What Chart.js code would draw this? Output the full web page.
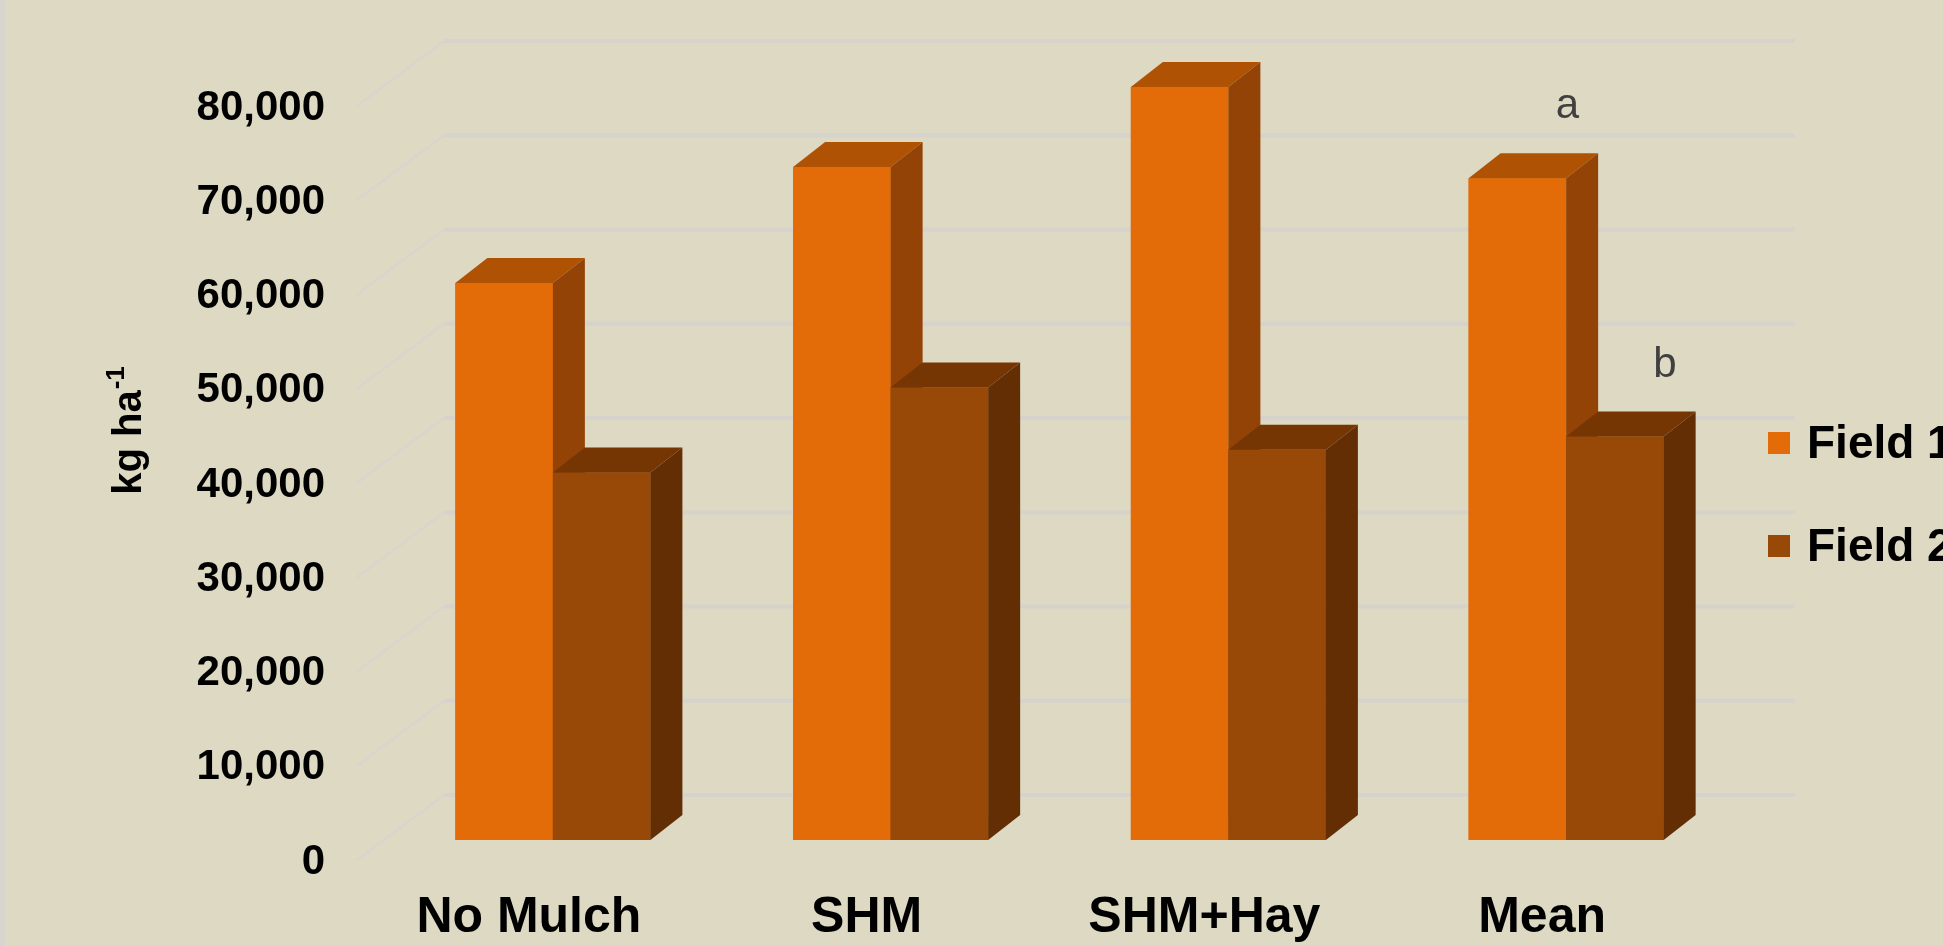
<!DOCTYPE html>
<html>
<head>
<meta charset="utf-8">
<script src="https://cdn.jsdelivr.net/npm/chart.js@4.4.1/dist/chart.umd.min.js"></script>
<style>
  html, body { margin: 0; padding: 0; background: #DDD9C3; overflow: hidden; }
  #wrap { position: relative; width: 1943px; height: 946px; }
  #edge { position: absolute; left: 0; top: 0; width: 5px; height: 946px; background: #D6D5D0; }
</style>
</head>
<body>
<div id="wrap">
  <canvas id="yieldChart" width="1943" height="946"></canvas>
  <div id="edge"></div>
</div>
<script>
// Data
const categories = ["No Mulch", "SHM", "SHM+Hay", "Mean"];
const field1 = [59100, 71400, 79900, 70200];
const field2 = [39000, 48000, 41400, 42800];
const field1Letters = ["", "", "", "a"];
const field2Letters = ["", "", "", "b"];
const yMax = 80000;
const yStep = 10000;

// 3D look: depth of the bars, back wall and floor front relative to the bar fronts
const DX = 32, DY = 25;
const WALL_DX = 60, WALL_DY = 45;
const FLOOR_DX = 27, FLOOR_DY = 20;

function poly(ctx, pts) {
  ctx.beginPath();
  ctx.moveTo(pts[0][0], pts[0][1]);
  for (let i = 1; i < pts.length; i++) ctx.lineTo(pts[i][0], pts[i][1]);
  ctx.closePath();
  ctx.fill();
}

const threeD = {
  id: "threeD",
  beforeDatasetsDraw(chart) {
    const { ctx, chartArea, scales: { y } } = chart;
    ctx.save();
    y.ticks.forEach(t => {
      const py = y.getPixelForValue(t.value);
      // side wall
      ctx.strokeStyle = "#D7D5CD";
      ctx.lineWidth = 2.5;
      ctx.beginPath();
      ctx.moveTo(chartArea.left - FLOOR_DX, py + FLOOR_DY);
      ctx.lineTo(chartArea.left + WALL_DX, py - WALL_DY);
      ctx.stroke();
      // back wall
      ctx.strokeStyle = "#D5D3CC";
      ctx.lineWidth = 4;
      ctx.beginPath();
      ctx.moveTo(chartArea.left + WALL_DX, py - WALL_DY);
      ctx.lineTo(chartArea.right + WALL_DX, py - WALL_DY);
      ctx.stroke();
    });
    ctx.restore();
  },
  afterDatasetsDraw(chart) {
    // faces drawn bar by bar, left to right, so nearer faces cover the ones behind
    const ctx = chart.ctx;
    const metas = chart.data.datasets.map((ds, i) => chart.getDatasetMeta(i));
    ctx.save();
    categories.forEach((c, i) => {
      metas.forEach((meta, di) => {
        const ds = chart.data.datasets[di];
        const bar = meta.data[i];
        const { x, y, base, width } = bar.getProps(["x", "y", "base", "width"], true);
        const x0 = x - width / 2, x1 = x + width / 2;
        ctx.fillStyle = ds.backgroundColor;
        ctx.fillRect(x0, y, width, base - y);
        ctx.fillStyle = ds.topColor;
        poly(ctx, [[x0, y], [x1, y], [x1 + DX, y - DY], [x0 + DX, y - DY]]);
        ctx.fillStyle = ds.sideColor;
        poly(ctx, [[x1, y], [x1 + DX, y - DY], [x1 + DX, base - DY], [x1, base]]);
      });
    });
    ctx.restore();
  },
  afterDraw(chart) {
    const { ctx, chartArea } = chart;
    ctx.save();

    // significance letters over the bars
    ctx.fillStyle = "#404040";
    ctx.font = "42px 'Liberation Sans', Arial, sans-serif";
    ctx.textAlign = "center";
    ctx.textBaseline = "alphabetic";
    [field1Letters, field2Letters].forEach((letters, di) => {
      chart.getDatasetMeta(di).data.forEach((bar, i) => {
        if (!letters[i]) return;
        ctx.fillText(letters[i], bar.x + 50, bar.y - 60);
      });
    });

    // legend
    ctx.textAlign = "left";
    ctx.font = "bold 46px 'Liberation Sans', Arial, sans-serif";
    chart.data.datasets.forEach((ds, i) => {
      const ly = 432 + i * 103;
      ctx.fillStyle = ds.backgroundColor;
      ctx.fillRect(chartArea.right + 33, ly, 22, 22);
      ctx.fillStyle = "#000";
      ctx.fillText(ds.label, chartArea.right + 72, ly + 26);
    });

    // y axis title: kg ha-1
    ctx.translate(141, 431);
    ctx.rotate(-Math.PI / 2);
    ctx.font = "bold 40px 'Liberation Sans', Arial, sans-serif";
    const main = "kg ha";
    const w1 = ctx.measureText(main).width;
    ctx.font = "bold 26px 'Liberation Sans', Arial, sans-serif";
    const w2 = ctx.measureText("-1").width;
    const start = -(w1 + w2) / 2;
    ctx.font = "bold 40px 'Liberation Sans', Arial, sans-serif";
    ctx.fillText(main, start, 0);
    ctx.font = "bold 26px 'Liberation Sans', Arial, sans-serif";
    ctx.fillText("-1", start + w1 + 1, -17);
    ctx.restore();
  }
};

new Chart(document.getElementById("yieldChart"), {
  type: "bar",
  data: {
    labels: categories,
    datasets: [
      {
        label: "Field 1",
        data: field1,
        backgroundColor: "#E36C09",
        topColor: "#AF5204",
        sideColor: "#934305",
        borderWidth: 0,
        clip: false,
        categoryPercentage: 0.5775,
        barPercentage: 1.0
      },
      {
        label: "Field 2",
        data: field2,
        backgroundColor: "#984807",
        topColor: "#763603",
        sideColor: "#632E03",
        borderWidth: 0,
        clip: false,
        categoryPercentage: 0.5775,
        barPercentage: 1.0
      }
    ]
  },
  options: {
    responsive: false,
    animation: false,
    layout: { padding: { top: 86, right: 208, bottom: 0, left: 0 } },
    plugins: {
      legend: { display: false },
      tooltip: { enabled: false }
    },
    scales: {
      x: {
        grid: { display: false, drawTicks: false },
        border: { display: false },
        ticks: {
          color: "#000",
          font: { family: "'Liberation Sans', Arial, sans-serif", size: 50, weight: "bold" },
          padding: 48,
          labelOffset: -24,
          maxRotation: 0,
          autoSkip: false
        },
        afterFit(scale) { scale.height = 106; }
      },
      y: {
        min: 0,
        max: yMax,
        grid: { display: false, drawTicks: false },
        border: { display: false },
        ticks: {
          stepSize: yStep,
          color: "#000",
          font: { family: "'Liberation Sans', Arial, sans-serif", size: 42, weight: "bold" },
          padding: 59,
          labelOffset: 22,
          callback: v => v.toLocaleString("en-US")
        },
        afterFit(scale) { scale.width = 384; }
      }
    }
  },
  plugins: [threeD]
});
</script>
</body>
</html>
